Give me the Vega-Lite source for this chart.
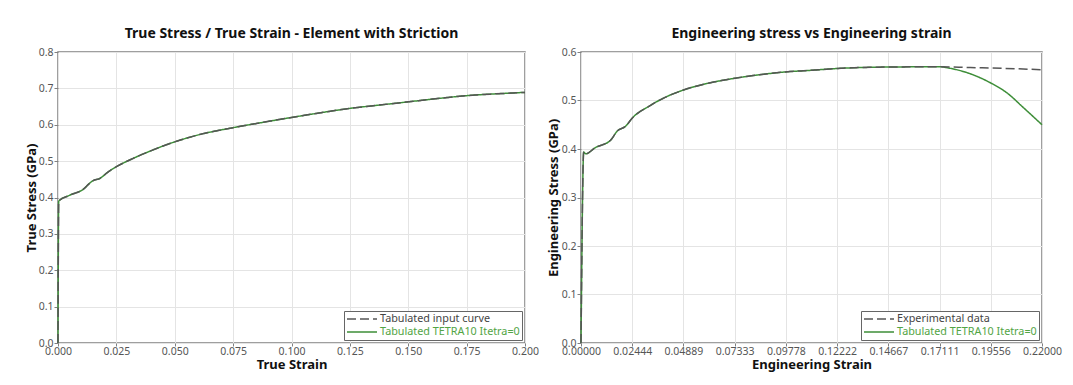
{
  "$schema": "https://vega.github.io/schema/vega-lite/v6.json",
  "padding": {"left": 24, "top": 26, "right": 5, "bottom": 5},
  "bounds": "flush",
  "spacing": 56,
  "datasets": {
    "trueCurve": [
      {"series": "Tabulated input curve", "strain": 0, "stress": 0},
      {"series": "Tabulated input curve", "strain": 0.0003, "stress": 0.39},
      {"series": "Tabulated input curve", "strain": 0.0049, "stress": 0.406},
      {"series": "Tabulated input curve", "strain": 0.0113, "stress": 0.425},
      {"series": "Tabulated input curve", "strain": 0.0135, "stress": 0.439},
      {"series": "Tabulated input curve", "strain": 0.0149, "stress": 0.446},
      {"series": "Tabulated input curve", "strain": 0.0178, "stress": 0.452},
      {"series": "Tabulated input curve", "strain": 0.0214, "stress": 0.47},
      {"series": "Tabulated input curve", "strain": 0.0254, "stress": 0.486},
      {"series": "Tabulated input curve", "strain": 0.032, "stress": 0.507},
      {"series": "Tabulated input curve", "strain": 0.0392, "stress": 0.527},
      {"series": "Tabulated input curve", "strain": 0.05, "stress": 0.553},
      {"series": "Tabulated input curve", "strain": 0.0606, "stress": 0.573},
      {"series": "Tabulated input curve", "strain": 0.075, "stress": 0.592},
      {"series": "Tabulated input curve", "strain": 0.089, "stress": 0.608},
      {"series": "Tabulated input curve", "strain": 0.1, "stress": 0.62},
      {"series": "Tabulated input curve", "strain": 0.1125, "stress": 0.633},
      {"series": "Tabulated input curve", "strain": 0.125, "stress": 0.645},
      {"series": "Tabulated input curve", "strain": 0.1375, "stress": 0.654},
      {"series": "Tabulated input curve", "strain": 0.15, "stress": 0.663},
      {"series": "Tabulated input curve", "strain": 0.1625, "stress": 0.672},
      {"series": "Tabulated input curve", "strain": 0.175, "stress": 0.68},
      {"series": "Tabulated input curve", "strain": 0.1875, "stress": 0.685},
      {"series": "Tabulated input curve", "strain": 0.2, "stress": 0.689},
      {"series": "Tabulated TETRA10 Itetra=0", "strain": 0, "stress": 0},
      {"series": "Tabulated TETRA10 Itetra=0", "strain": 0.0003, "stress": 0.39},
      {"series": "Tabulated TETRA10 Itetra=0", "strain": 0.0049, "stress": 0.406},
      {"series": "Tabulated TETRA10 Itetra=0", "strain": 0.0113, "stress": 0.425},
      {"series": "Tabulated TETRA10 Itetra=0", "strain": 0.0135, "stress": 0.439},
      {"series": "Tabulated TETRA10 Itetra=0", "strain": 0.0149, "stress": 0.446},
      {"series": "Tabulated TETRA10 Itetra=0", "strain": 0.0178, "stress": 0.452},
      {"series": "Tabulated TETRA10 Itetra=0", "strain": 0.0214, "stress": 0.47},
      {"series": "Tabulated TETRA10 Itetra=0", "strain": 0.0254, "stress": 0.486},
      {"series": "Tabulated TETRA10 Itetra=0", "strain": 0.032, "stress": 0.507},
      {"series": "Tabulated TETRA10 Itetra=0", "strain": 0.0392, "stress": 0.527},
      {"series": "Tabulated TETRA10 Itetra=0", "strain": 0.05, "stress": 0.553},
      {"series": "Tabulated TETRA10 Itetra=0", "strain": 0.0606, "stress": 0.573},
      {"series": "Tabulated TETRA10 Itetra=0", "strain": 0.075, "stress": 0.592},
      {"series": "Tabulated TETRA10 Itetra=0", "strain": 0.089, "stress": 0.608},
      {"series": "Tabulated TETRA10 Itetra=0", "strain": 0.1, "stress": 0.62},
      {"series": "Tabulated TETRA10 Itetra=0", "strain": 0.1125, "stress": 0.633},
      {"series": "Tabulated TETRA10 Itetra=0", "strain": 0.125, "stress": 0.645},
      {"series": "Tabulated TETRA10 Itetra=0", "strain": 0.1375, "stress": 0.654},
      {"series": "Tabulated TETRA10 Itetra=0", "strain": 0.15, "stress": 0.663},
      {"series": "Tabulated TETRA10 Itetra=0", "strain": 0.1625, "stress": 0.672},
      {"series": "Tabulated TETRA10 Itetra=0", "strain": 0.175, "stress": 0.68},
      {"series": "Tabulated TETRA10 Itetra=0", "strain": 0.1875, "stress": 0.685},
      {"series": "Tabulated TETRA10 Itetra=0", "strain": 0.2, "stress": 0.689}
    ],
    "engCurve": [
      {"series": "Experimental data", "strain": 0, "stress": 0},
      {"series": "Experimental data", "strain": 0.0013, "stress": 0.394},
      {"series": "Experimental data", "strain": 0.0022, "stress": 0.39},
      {"series": "Experimental data", "strain": 0.0069, "stress": 0.403},
      {"series": "Experimental data", "strain": 0.0141, "stress": 0.418},
      {"series": "Experimental data", "strain": 0.0173, "stress": 0.437},
      {"series": "Experimental data", "strain": 0.0213, "stress": 0.447},
      {"series": "Experimental data", "strain": 0.0245, "stress": 0.464},
      {"series": "Experimental data", "strain": 0.0324, "stress": 0.488},
      {"series": "Experimental data", "strain": 0.0404, "stress": 0.507},
      {"series": "Experimental data", "strain": 0.0492, "stress": 0.522},
      {"series": "Experimental data", "strain": 0.0611, "stress": 0.536},
      {"series": "Experimental data", "strain": 0.0736, "stress": 0.546},
      {"series": "Experimental data", "strain": 0.085, "stress": 0.553},
      {"series": "Experimental data", "strain": 0.0978, "stress": 0.559},
      {"series": "Experimental data", "strain": 0.109, "stress": 0.562},
      {"series": "Experimental data", "strain": 0.1222, "stress": 0.566},
      {"series": "Experimental data", "strain": 0.1467, "stress": 0.569},
      {"series": "Experimental data", "strain": 0.1711, "stress": 0.5696},
      {"series": "Experimental data", "strain": 0.1858, "stress": 0.568},
      {"series": "Experimental data", "strain": 0.1956, "stress": 0.567},
      {"series": "Experimental data", "strain": 0.22, "stress": 0.5635},
      {"series": "Tabulated TETRA10 Itetra=0", "strain": 0, "stress": 0},
      {"series": "Tabulated TETRA10 Itetra=0", "strain": 0.0013, "stress": 0.394},
      {"series": "Tabulated TETRA10 Itetra=0", "strain": 0.0022, "stress": 0.39},
      {"series": "Tabulated TETRA10 Itetra=0", "strain": 0.0069, "stress": 0.403},
      {"series": "Tabulated TETRA10 Itetra=0", "strain": 0.0141, "stress": 0.418},
      {"series": "Tabulated TETRA10 Itetra=0", "strain": 0.0173, "stress": 0.437},
      {"series": "Tabulated TETRA10 Itetra=0", "strain": 0.0213, "stress": 0.447},
      {"series": "Tabulated TETRA10 Itetra=0", "strain": 0.0245, "stress": 0.464},
      {"series": "Tabulated TETRA10 Itetra=0", "strain": 0.0324, "stress": 0.488},
      {"series": "Tabulated TETRA10 Itetra=0", "strain": 0.0404, "stress": 0.507},
      {"series": "Tabulated TETRA10 Itetra=0", "strain": 0.0492, "stress": 0.522},
      {"series": "Tabulated TETRA10 Itetra=0", "strain": 0.0611, "stress": 0.536},
      {"series": "Tabulated TETRA10 Itetra=0", "strain": 0.0736, "stress": 0.546},
      {"series": "Tabulated TETRA10 Itetra=0", "strain": 0.085, "stress": 0.553},
      {"series": "Tabulated TETRA10 Itetra=0", "strain": 0.0978, "stress": 0.559},
      {"series": "Tabulated TETRA10 Itetra=0", "strain": 0.109, "stress": 0.562},
      {"series": "Tabulated TETRA10 Itetra=0", "strain": 0.1222, "stress": 0.566},
      {"series": "Tabulated TETRA10 Itetra=0", "strain": 0.1467, "stress": 0.569},
      {"series": "Tabulated TETRA10 Itetra=0", "strain": 0.1711, "stress": 0.5696},
      {"series": "Tabulated TETRA10 Itetra=0", "strain": 0.1754, "stress": 0.567},
      {"series": "Tabulated TETRA10 Itetra=0", "strain": 0.1858, "stress": 0.555},
      {"series": "Tabulated TETRA10 Itetra=0", "strain": 0.1956, "stress": 0.536},
      {"series": "Tabulated TETRA10 Itetra=0", "strain": 0.2032, "stress": 0.516},
      {"series": "Tabulated TETRA10 Itetra=0", "strain": 0.2112, "stress": 0.485},
      {"series": "Tabulated TETRA10 Itetra=0", "strain": 0.22, "stress": 0.45}
    ]
  },
  "hconcat": [
    {
      "title": "True Stress / True Strain - Element with Striction",
      "width": 467,
      "height": 291,
      "data": {"name": "trueCurve"},
      "encoding": {
        "x": {"field": "strain", "type": "quantitative", "title": "True Strain",
              "scale": {"domain": [0, 0.2], "nice": false},
              "axis": {"values": [0, 0.025, 0.05, 0.075, 0.1, 0.125, 0.15, 0.175, 0.2], "format": ".3f"}},
        "y": {"field": "stress", "type": "quantitative", "title": "True Stress (GPa)",
              "scale": {"domain": [0, 0.8], "nice": false},
              "axis": {"values": [0, 0.1, 0.2, 0.3, 0.4, 0.5, 0.6, 0.7, 0.8], "format": ".1f"}},
        "color": {"field": "series", "type": "nominal",
                  "scale": {"domain": ["Tabulated input curve", "Tabulated TETRA10 Itetra=0"], "range": ["#555555", "#3e8e39"]},
                  "legend": {"title": null, "encode": {"labels": {"update": {"fill": {"signal": "indexof(datum.label, 'TETRA') >= 0 ? '#52a444' : '#444444'"}}}}}},
        "strokeDash": {"field": "series", "type": "nominal",
                  "scale": {"domain": ["Tabulated input curve", "Tabulated TETRA10 Itetra=0"], "range": [[9, 4], [1, 0]]},
                  "legend": {"title": null}}
      },
      "layer": [
        {"transform": [{"filter": "datum.series === 'Tabulated TETRA10 Itetra=0'"}],
         "mark": {"type": "line", "strokeWidth": 1.5, "interpolate": "monotone"}},
        {"transform": [{"filter": "datum.series === 'Tabulated input curve'"}],
         "mark": {"type": "line", "strokeWidth": 1.5, "interpolate": "monotone"}}
      ]
    },
    {
      "title": "Engineering stress vs Engineering strain",
      "width": 461,
      "height": 291,
      "data": {"name": "engCurve"},
      "encoding": {
        "x": {"field": "strain", "type": "quantitative", "title": "Engineering Strain",
              "scale": {"domain": [0, 0.22], "nice": false},
              "axis": {"values": [0, 0.0244444, 0.0488889, 0.0733333, 0.0977778, 0.1222222, 0.1466667, 0.1711111, 0.1955556, 0.22], "format": ".5f"}},
        "y": {"field": "stress", "type": "quantitative", "title": "Engineering Stress  (GPa)",
              "scale": {"domain": [0, 0.6], "nice": false},
              "axis": {"values": [0, 0.1, 0.2, 0.3, 0.4, 0.5, 0.6], "format": ".1f", "titlePadding": 1}},
        "color": {"field": "series", "type": "nominal",
                  "scale": {"domain": ["Experimental data", "Tabulated TETRA10 Itetra=0"], "range": ["#555555", "#3e8e39"]},
                  "legend": {"title": null, "encode": {"labels": {"update": {"fill": {"signal": "indexof(datum.label, 'TETRA') >= 0 ? '#52a444' : '#444444'"}}}}}},
        "strokeDash": {"field": "series", "type": "nominal",
                  "scale": {"domain": ["Experimental data", "Tabulated TETRA10 Itetra=0"], "range": [[9, 4], [1, 0]]},
                  "legend": {"title": null}}
      },
      "layer": [
        {"transform": [{"filter": "datum.series === 'Tabulated TETRA10 Itetra=0'"}],
         "mark": {"type": "line", "strokeWidth": 1.5, "interpolate": "monotone"}},
        {"transform": [{"filter": "datum.series === 'Experimental data'"}],
         "mark": {"type": "line", "strokeWidth": 1.5, "interpolate": "monotone"}}
      ]
    }
  ],
  "resolve": {"scale": {"color": "independent", "strokeDash": "independent"}, "legend": {"color": "independent", "strokeDash": "independent"}},
  "config": {
    "font": "Noto Sans",
    "view": {"stroke": "#808080", "strokeWidth": 1.5},
    "axis": {
      "domain": false,
      "grid": true,
      "gridColor": "#e4e4e4",
      "gridWidth": 1,
      "labelFontSize": 10.5,
      "labelColor": "#555555",
      "labelOverlap": false,
      "labelFlush": false,
      "titleFontSize": 13,
      "titleFontWeight": "bold",
      "titleColor": "#111111",
      "tickColor": "#808080",
      "tickSize": 4,
      "labelPadding": 1
    },
    "axisX": {"tickSize": 3, "labelPadding": 0, "titlePadding": 2},
    "axisY": {"titlePadding": 0},
    "title": {"fontSize": 14, "fontWeight": "bold", "offset": 6, "color": "#111111", "anchor": "middle"},
    "legend": {
      "orient": "bottom-right",
      "offset": 3,
      "padding": 2,
      "strokeColor": "#666666",
      "fillColor": "#ffffff",
      "labelFontSize": 10.8,
      "labelColor": "#444444",
      "symbolType": "stroke",
      "symbolSize": 900,
      "symbolStrokeWidth": 1.5,
      "clipHeight": 12,
      "labelOffset": 2,
      "rowPadding": 1,
      "labelLimit": 300
    }
  }
}
